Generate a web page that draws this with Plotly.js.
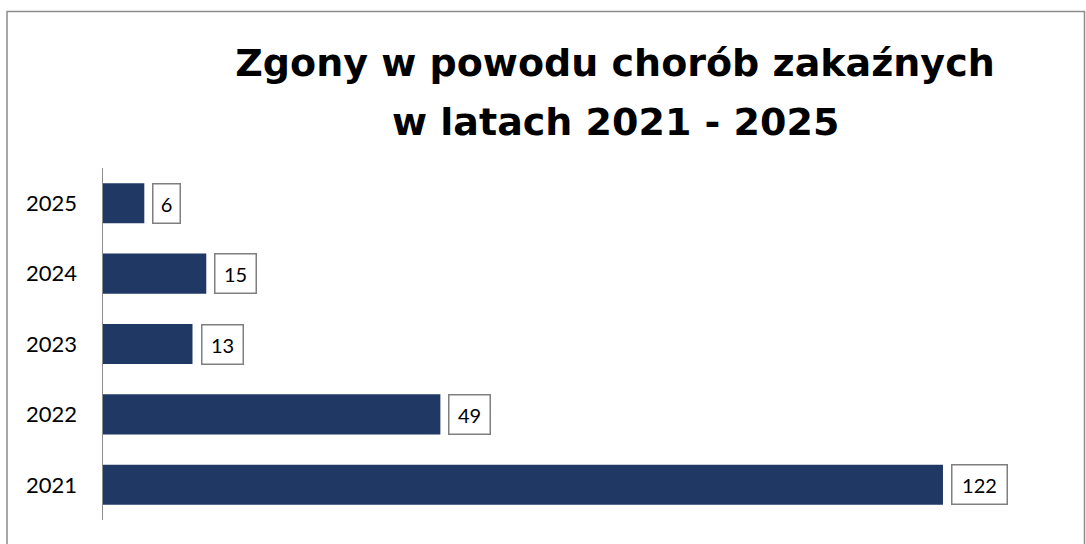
<!DOCTYPE html>
<html><head><meta charset="utf-8">
<script src="https://cdn.plot.ly/plotly-3.0.1.min.js"></script>
<style>html,body{margin:0;padding:0;background:#fff}#chart{width:1086px;height:544px}</style>
</head><body><div id="chart"></div>
<script>
const years = ['2021','2022','2023','2024','2025'];
const deaths = [122, 49, 13, 15, 6];
const titleLine1 = '<b>Zgony w powodu chorób zakaźnych</b>';
const titleLine2 = '<b>w latach 2021 - 2025</b>';

const ml = 103, mr = 26, mt = 168, mb = 24, W = 1086, H = 544;
const pw = W - ml - mr, ph = H - mt - mb;
const py = p => (H - mb - p) / ph;   // pixel-from-top -> paper y
const px = p => (p - ml) / pw;       // pixel-from-left -> paper x

const annotations = years.map((y, i) => ({
  x: deaths[i], y: i, xref: 'x', yref: 'y',
  text: String(deaths[i]), showarrow: false,
  xanchor: 'left', yanchor: 'middle', xshift: 8,
  font: {family: 'Lato, Carlito, sans-serif', size: 20, color: '#000'},
  bgcolor: '#fff', bordercolor: '#7f7f7f', borderwidth: 1.5, borderpad: 0,
  width: 12 + 14 * String(deaths[i]).length, height: 38
}));
annotations.push({
  text: titleLine2, xref: 'paper', yref: 'paper', x: px(615), y: py(98),
  xanchor: 'center', yanchor: 'top', showarrow: false,
  font: {family: 'DejaVu Sans', size: 38, color: '#000'}
});

const layout = {
  width: W, height: H,
  margin: {l: ml, r: mr, t: mt, b: mb},
  paper_bgcolor: '#fff', plot_bgcolor: '#fff',
  showlegend: false,
  title: {text: titleLine1, x: 615 / W, xanchor: 'center', xref: 'container', y: 1 - 49 / H, yref: 'container', yanchor: 'top',
    font: {family: 'DejaVu Sans', size: 38, color: '#000'}},
  xaxis: {range: [0, pw / 6.885], visible: false, fixedrange: true},
  yaxis: {type: 'category', categoryorder: 'array', categoryarray: years, range: [-0.5, 4.5], autorange: false,
    showline: true, linecolor: '#8c8c8c', linewidth: 1.5, showgrid: false, zeroline: false,
    ticks: '', ticklabelstandoff: 20,
    tickfont: {family: 'Lato, Carlito, sans-serif', size: 22, color: '#000'}},
  bargap: 0.43,
  annotations: annotations,
  shapes: [{type: 'rect', xref: 'paper', yref: 'paper',
    x0: px(7), x1: px(1084.5), y0: py(560), y1: py(11.5),
    line: {color: '#8c8c8c', width: 1.5}, fillcolor: 'rgba(0,0,0,0)', layer: 'below'}]
};

Plotly.newPlot('chart', [{
  type: 'bar', orientation: 'h', x: deaths, y: years,
  marker: {color: '#203864'}, hoverinfo: 'none', cliponaxis: false
}], layout, {displayModeBar: false, staticPlot: true});
</script></body></html>
